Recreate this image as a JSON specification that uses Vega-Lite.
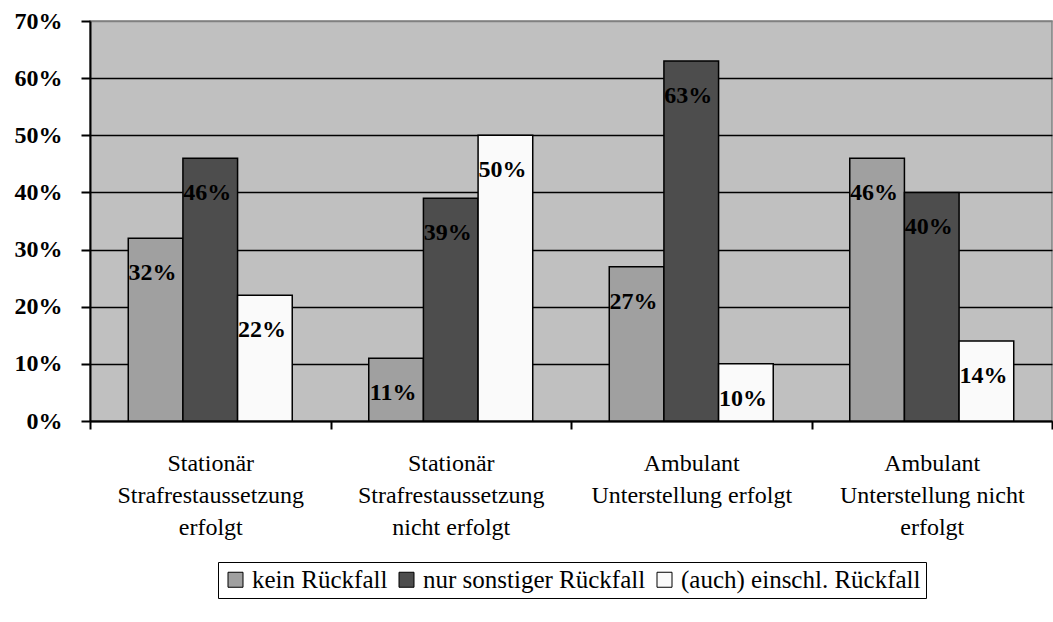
{
  "$schema": "https://vega.github.io/schema/vega-lite/v6.json",
  "autosize": "none",
  "width": 962,
  "height": 400,
  "padding": {"left": 90, "top": 21, "right": 1, "bottom": 201},
  "background": "white",
  "config": {
    "view": {"fill": "#C0C0C0", "stroke": "#808080", "strokeWidth": 1.5},
    "font": "Liberation Serif"
  },
  "data": {
    "values": [
      {"gruppe": "Stationär|Strafrestaussetzung|erfolgt", "art": "kein Rückfall", "anteil": 0.32},
      {"gruppe": "Stationär|Strafrestaussetzung|erfolgt", "art": "nur sonstiger Rückfall", "anteil": 0.46},
      {"gruppe": "Stationär|Strafrestaussetzung|erfolgt", "art": "(auch) einschl. Rückfall", "anteil": 0.22},
      {"gruppe": "Stationär|Strafrestaussetzung|nicht erfolgt", "art": "kein Rückfall", "anteil": 0.11},
      {"gruppe": "Stationär|Strafrestaussetzung|nicht erfolgt", "art": "nur sonstiger Rückfall", "anteil": 0.39},
      {"gruppe": "Stationär|Strafrestaussetzung|nicht erfolgt", "art": "(auch) einschl. Rückfall", "anteil": 0.50},
      {"gruppe": "Ambulant|Unterstellung erfolgt", "art": "kein Rückfall", "anteil": 0.27},
      {"gruppe": "Ambulant|Unterstellung erfolgt", "art": "nur sonstiger Rückfall", "anteil": 0.63},
      {"gruppe": "Ambulant|Unterstellung erfolgt", "art": "(auch) einschl. Rückfall", "anteil": 0.10},
      {"gruppe": "Ambulant|Unterstellung nicht|erfolgt", "art": "kein Rückfall", "anteil": 0.46},
      {"gruppe": "Ambulant|Unterstellung nicht|erfolgt", "art": "nur sonstiger Rückfall", "anteil": 0.40},
      {"gruppe": "Ambulant|Unterstellung nicht|erfolgt", "art": "(auch) einschl. Rückfall", "anteil": 0.14}
    ]
  },
  "encoding": {
    "x": {
      "field": "gruppe",
      "type": "nominal",
      "sort": null,
      "title": null,
      "scale": {"paddingInner": 0, "paddingOuter": 0},
      "axis": {
        "labelAngle": 0,
        "labelExpr": "split(datum.label, '|')",
        "labelFont": "Liberation Serif",
        "labelFontSize": 24,
        "labelColor": "black",
        "labelLineHeight": 32,
        "labelPadding": 22,
        "labelBaseline": "top",
        "labelLimit": 500,
        "tickBand": "extent",
        "tickColor": "black",
        "tickSize": 8,
        "tickWidth": 2,
        "domainColor": "black",
        "domainWidth": 2,
        "grid": false
      }
    },
    "xOffset": {
      "field": "art",
      "type": "nominal",
      "scale": {"domain": ["kein Rückfall", "nur sonstiger Rückfall", "(auch) einschl. Rückfall"], "paddingInner": 0, "paddingOuter": 0.7}
    },
    "y": {
      "field": "anteil",
      "type": "quantitative",
      "title": null,
      "scale": {"domain": [0, 0.7], "nice": false},
      "axis": {
        "values": [0, 0.1, 0.2, 0.3, 0.4, 0.5, 0.6, 0.7],
        "format": ".0%",
        "labelFont": "Liberation Serif",
        "labelFontSize": 24,
        "labelFontWeight": "bold",
        "labelColor": "black",
        "labelPadding": 19,
        "tickSize": 9,
        "tickColor": "black",
        "tickWidth": 2,
        "domainColor": "black",
        "domainWidth": 2,
        "grid": true,
        "gridColor": {"condition": {"test": "datum.value >= 0.69", "value": "#808080"}, "value": "black"},
        "gridWidth": 1.5,
        "gridOpacity": 1
      }
    }
  },
  "layer": [
    {
      "mark": {"type": "bar", "stroke": "black", "strokeWidth": 1.5},
      "encoding": {
        "color": {
          "field": "art",
          "type": "nominal",
          "scale": {
            "domain": ["kein Rückfall", "nur sonstiger Rückfall", "(auch) einschl. Rückfall"],
            "range": ["#A0A0A0", "#4D4D4D", "#FAFAFA"]
          },
          "legend": {
            "title": null,
            "orient": "none",
            "direction": "horizontal",
            "legendX": 128,
            "legendY": 541,
            "strokeColor": "black",
            "fillColor": "white",
            "padding": 5,
            "symbolType": "square",
            "symbolSize": 225,
            "symbolStrokeColor": "black",
            "symbolStrokeWidth": 1,
            "symbolOpacity": 1,
            "labelFont": "Liberation Serif",
            "labelFontSize": 25,
            "labelColor": "black",
            "labelOffset": 4,
            "labelLimit": 400,
            "columnPadding": 6
          }
        }
      }
    },
    {
      "mark": {
        "type": "text",
        "font": "Liberation Serif",
        "fontSize": 24,
        "fontWeight": "bold",
        "color": "black",
        "baseline": "middle",
        "dy": 35,
        "dx": -3
      },
      "encoding": {
        "text": {"field": "anteil", "type": "quantitative", "format": ".0%"}
      }
    }
  ]
}
